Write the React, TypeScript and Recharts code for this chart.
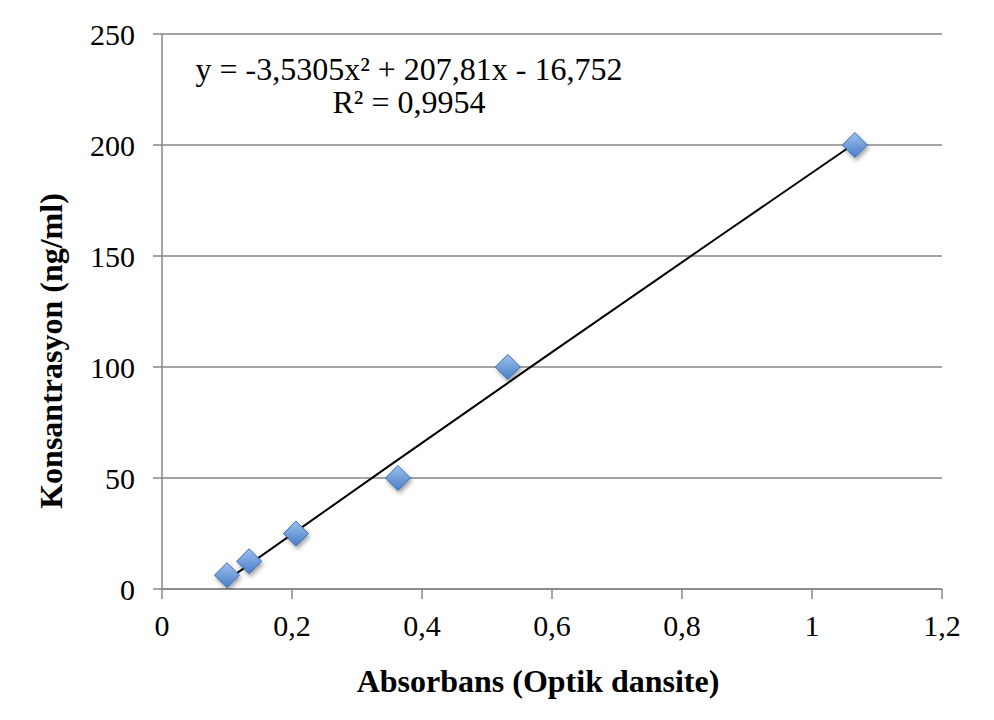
import React from 'react';
import { ScatterChart, Scatter, XAxis, YAxis, CartesianGrid, Label } from 'recharts';

// Measured standards: absorbance (x) vs concentration (y)
const absorbance = [0.1, 0.134, 0.206, 0.363, 0.532, 1.066];
const concentration = [6.25, 12.5, 25, 50, 100, 200];

// Polynomial trendline points as drawn in the picture
const trendX = [0.1, 0.35, 0.6, 0.85, 1.066];
const trendY = [4.0, 55.6, 106.7, 157.3, 200.8];

const xTicks = [0, 0.2, 0.4, 0.6, 0.8, 1, 1.2];
const yTicks = [0, 50, 100, 150, 200, 250];

const equationText = 'y = -3,5305x² + 207,81x - 16,752';
const r2Text = 'R² = 0,9954';
const xTitle = 'Absorbans (Optik dansite)';
const yTitle = 'Konsantrasyon (ng/ml)';

const points = absorbance.map((x, i) => ({ x, y: concentration[i] }));
const trend = trendX.map((x, i) => ({ x, y: trendY[i] }));

const FONT = '"Liberation Serif"';
const AXIS = '#868686';

const Diamond = (props: any) => {
  const { cx, cy } = props;
  if (cx == null || cy == null) return <g />;
  const r = 12.5;
  const pts = `${cx},${cy - r} ${cx + r},${cy} ${cx},${cy + r} ${cx - r},${cy}`;
  return (
    <g>
      <polygon points={pts} fill="url(#diamondGrad)" stroke="#3c6db2" strokeWidth={1} filter="url(#dshadow)" />
    </g>
  );
};

const NoShape = () => <g />;

const fmt = (v: number) => String(v).replace('.', ',');

const tickStyle = { fill: '#000', fontSize: 30, style: { fontFamily: FONT } };

export default function App() {
  return (
    <div style={{ position: 'relative', width: 994, height: 720, margin: -8, background: '#fff', fontFamily: FONT }}>
      <div
        style={{
          position: 'absolute',
          left: 7,
          top: 2,
          width: 982,
          height: 713,
          border: '1px solid #9a9a9a',
          boxSizing: 'border-box',
        }}
      />
      <div style={{ position: 'absolute', left: 0, top: 0 }}>
        <ScatterChart
          width={994}
          height={720}
          margin={{ top: 34, right: 52, left: 102, bottom: 71 }}
          style={{ fontFamily: FONT }}
        >
          <defs>
            <linearGradient id="diamondGrad" x1="0" y1="0" x2="0" y2="1">
              <stop offset="0%" stopColor="#9cc0ee" />
              <stop offset="100%" stopColor="#4a7ec8" />
            </linearGradient>
            <filter id="dshadow" x="-50%" y="-50%" width="200%" height="200%">
              <feDropShadow dx="1.5" dy="3" stdDeviation="2" floodColor="#000" floodOpacity="0.35" />
            </filter>
          </defs>
          <CartesianGrid vertical={false} stroke={AXIS} strokeWidth={1.5} />
          <XAxis
            type="number"
            dataKey="x"
            domain={[0, 1.2]}
            ticks={xTicks}
            tickFormatter={fmt}
            height={60}
            tickSize={10}
            tickMargin={16}
            axisLine={{ stroke: AXIS, strokeWidth: 1.5 }}
            tickLine={{ stroke: AXIS, strokeWidth: 1.5 }}
            tick={tickStyle}
            allowDataOverflow
          >
            <Label
              content={() => (
                <text x={538} y={692} textAnchor="middle" style={{ fontFamily: FONT }} fontSize={32} fontWeight="bold" fill="#000">
                  {xTitle}
                </text>
              )}
            />
          </XAxis>
          <YAxis
            type="number"
            dataKey="y"
            domain={[0, 250]}
            ticks={yTicks}
            width={60}
            tickSize={9}
            tickMargin={18}
            axisLine={{ stroke: AXIS, strokeWidth: 1.5 }}
            tickLine={{ stroke: AXIS, strokeWidth: 1.5 }}
            tick={tickStyle}
            allowDataOverflow
          >
            <Label
              content={() => (
                <text
                  x={0}
                  y={0}
                  transform="translate(62,351) rotate(-90)"
                  textAnchor="middle"
                  style={{ fontFamily: FONT }}
                  fontSize={32}
                  fontWeight="bold"
                  fill="#000"
                >
                  {yTitle}
                </text>
              )}
            />
          </YAxis>
          <Scatter
            data={trend}
            line={{ stroke: '#000', strokeWidth: 2 }}
            shape={NoShape}
            isAnimationActive={false}
            legendType="none"
          />
          <Scatter data={points} shape={Diamond} isAnimationActive={false} />
        </ScatterChart>
      </div>
      <svg width={994} height={720} style={{ position: 'absolute', left: 0, top: 0, pointerEvents: 'none' }}>
        <text x={409} y={80} textAnchor="middle" style={{ fontFamily: FONT }} fontSize={32} fill="#000">
          {equationText}
        </text>
        <text x={409} y={113} textAnchor="middle" style={{ fontFamily: FONT }} fontSize={32} fill="#000">
          {r2Text}
        </text>
      </svg>
    </div>
  );
}
